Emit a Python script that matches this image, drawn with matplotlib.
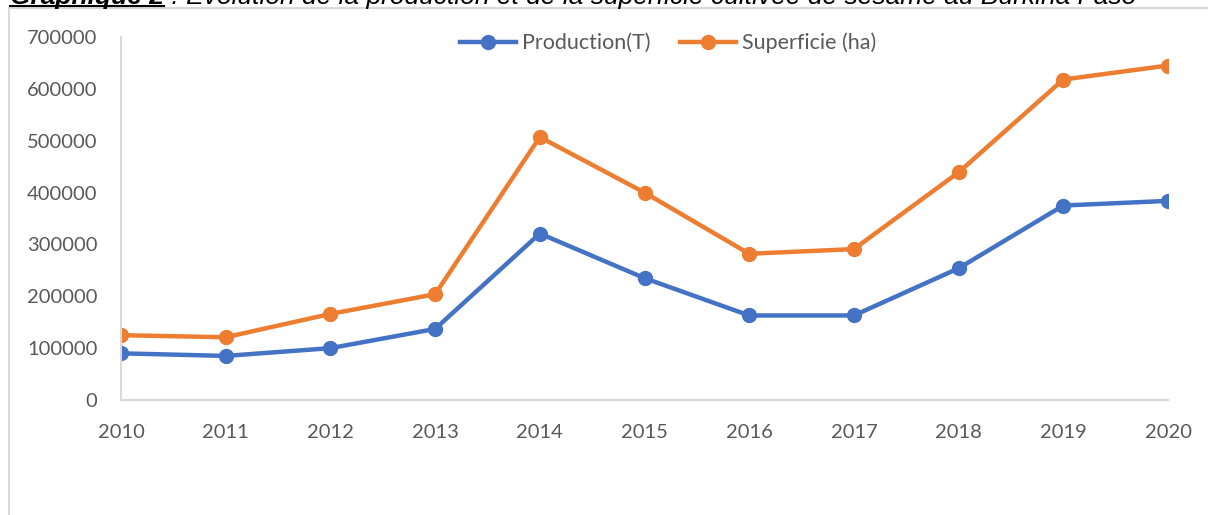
import matplotlib.pyplot as plt
from matplotlib.lines import Line2D
from matplotlib.patches import Rectangle

years = [2010, 2011, 2012, 2013, 2014, 2015, 2016, 2017, 2018, 2019, 2020]
production = [90000, 85000, 100000, 137000, 321000, 235000, 163000, 163000, 254000, 375000, 384000]
superficie = [125000, 121000, 166000, 204000, 507000, 400000, 282000, 291000, 439000, 618000, 645000]
y_ticks = [0, 100000, 200000, 300000, 400000, 500000, 600000, 700000]

title_bold = "Graphique 2"
title_rest = " : Evolution de la production et de la superficie cultivée de sésame au Burkina Faso"

W, H = 1208, 515
blue = "#4472C4"
orange = "#ED7D31"
grey_txt = "#595959"
grey_line = "#D9D9D9"

plt.rcParams['font.family'] = ['Lato', 'DejaVu Sans']

fig = plt.figure(figsize=(W / 100, H / 100), dpi=100)
ax = fig.add_axes([121 / W, 1 - 400 / H, (1168 - 121) / W, (400 - 37) / H])

ax.plot(years, production, color=blue, lw=3.2, marker='o', ms=10, label='Production(T)')
ax.plot(years, superficie, color=orange, lw=3.2, marker='o', ms=10, label='Superficie (ha)')

ax.set_xlim(2010, 2020)
ax.set_ylim(0, 700000)
ax.set_xticks(years)
ax.set_yticks(y_ticks)
ax.set_yticklabels([str(v) for v in y_ticks])

for s in ['top', 'right']:
    ax.spines[s].set_visible(False)
for s in ['left', 'bottom']:
    ax.spines[s].set_color(grey_line)
    ax.spines[s].set_linewidth(1.5)
ax.tick_params(length=0, colors=grey_txt, labelsize=14.5)
ax.tick_params(axis='y', pad=17)
ax.tick_params(axis='x', pad=17)
for lab in ax.get_xticklabels() + ax.get_yticklabels():
    lab.set_clip_on(False)

leg = ax.legend(loc='center', bbox_to_anchor=(668 / W, 1 - 43 / H),
                bbox_transform=fig.transFigure, ncol=2, frameon=False,
                fontsize=15.5, handlelength=2.6, columnspacing=1.4,
                handletextpad=0.25)
for t in leg.get_texts():
    t.set_color(grey_txt)

# chart area border (only left and top visible)
fig.add_artist(Rectangle((9 / W, -0.1), 1.2, 1 - 7.5 / H + 0.1,
                         transform=fig.transFigure, fill=False,
                         edgecolor=grey_line, lw=1.5))

# title cut off at the top of the image, as in the source
fs = 19
t1 = fig.text(10 / W, 1 - 4 / H, title_bold, family='Liberation Sans',
              style='italic', weight='bold', fontsize=fs, va='baseline')
fig.canvas.draw()
r = fig.canvas.get_renderer()
b1 = t1.get_window_extent(r)
t2 = fig.text(b1.x1 / W, 1 - 4 / H, title_rest, family='Liberation Sans',
              style='italic', fontsize=fs, va='baseline')
fig.add_artist(Line2D([10 / W, b1.x1 / W], [1 - 5.5 / H, 1 - 5.5 / H],
                      transform=fig.transFigure, color='black', lw=1.5))

fig.savefig('out.png', dpi=100)
